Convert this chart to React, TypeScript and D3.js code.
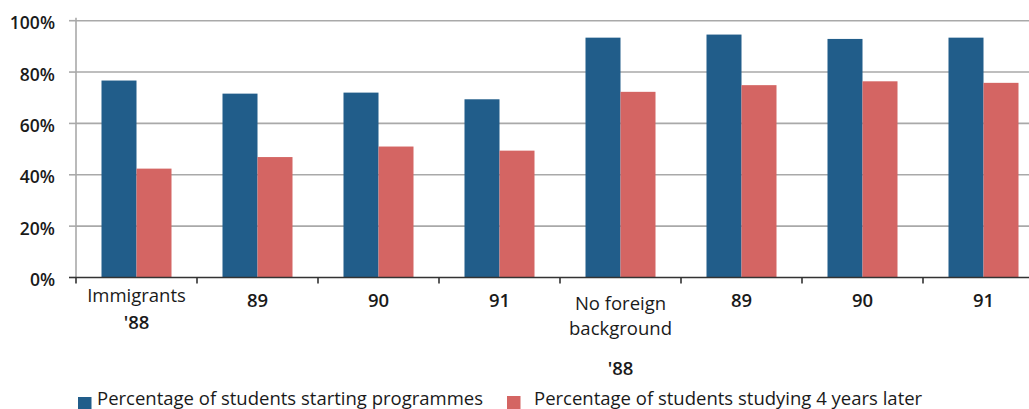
import React from "react";
import * as d3 from "d3";

// ---- data ----
const categoryLabels: string[][] = [
  ["Immigrants", "'88"],
  ["89"],
  ["90"],
  ["91"],
  ["No foreign", "background", "", "'88"],
  ["89"],
  ["90"],
  ["91"],
];
const startingValues = [76.7, 71.6, 72.0, 69.4, 93.4, 94.6, 92.9, 93.4];
const laterValues = [42.4, 46.9, 51.0, 49.4, 72.3, 74.9, 76.4, 75.8];
const seriesNames = [
  "Percentage of students starting programmes",
  "Percentage of students studying 4 years later",
];
const yTickValues = [0, 20, 40, 60, 80, 100];

// ---- layout ----
const W = 1029;
const H = 409;
const M = { left: 76, top: 20.7, bottom: 277.5, right: 1044 };
const BLUE = "#215D8A";
const RED = "#D46563";
const FONT = "'Open Sans', sans-serif";
const LABEL_SIZE = 18.5;
const barW = 35;

export default function App() {
  const idx = categoryLabels.map((_, i) => String(i));
  const x = d3.scaleBand<string>().domain(idx).range([M.left, M.right]).padding(0);
  const y = d3.scaleLinear().domain([0, 100]).range([M.bottom, M.top]);
  const sub = d3
    .scaleBand<string>()
    .domain(["start", "later"])
    .range([x.bandwidth() / 2 - barW, x.bandwidth() / 2 + barW]);

  const tickBoundaries = idx.map((d) => x(d) as number);

  const lineBaselines = (lines: string[]) =>
    lines.length === 1 ? [306.7] : lines.length === 2 ? [301.7, 329.3] : [310, 335, 355, 375];

  const isNumeric = (s: string) => /^'?\d+$/.test(s);

  return (
    <svg width={W} height={H} style={{ position: "absolute", left: 0, top: 0, display: "block" }}>
      <rect x={0} y={0} width={W} height={H} fill="#fff" />
      {/* grid lines */}
      {yTickValues.slice(1).map((v) => (
        <line key={v} x1={M.left} x2={W} y1={y(v)} y2={y(v)} stroke="#a9a9a9" strokeWidth={1.6} />
      ))}
      {/* y axis */}
      <line x1={M.left} x2={M.left} y1={M.top - 3} y2={M.bottom} stroke="#a9a9a9" strokeWidth={1.6} />
      {yTickValues.map((v) => (
        <g key={v}>
          <line x1={M.left - 7} x2={M.left} y1={y(v)} y2={y(v)} stroke={v === 0 ? "#333" : "#a9a9a9"} strokeWidth={1.6} />
          <text
            x={55}
            y={y(v) + 8.5}
            textAnchor="end"
            fontFamily={FONT}
            fontSize={17.5}
            fontWeight={600}
            fill="#1a1a1a"
          >
            {`${v}%`}
          </text>
        </g>
      ))}
      {/* bars */}
      {idx.map((d, i) => (
        <g key={d} transform={`translate(${x(d)},0)`}>
          <rect
            x={sub("start")}
            y={y(startingValues[i])}
            width={sub.bandwidth()}
            height={M.bottom - y(startingValues[i])}
            fill={BLUE}
          />
          <rect
            x={sub("later")}
            y={y(laterValues[i])}
            width={sub.bandwidth()}
            height={M.bottom - y(laterValues[i])}
            fill={RED}
          />
        </g>
      ))}
      {/* x axis */}
      <line x1={M.left} x2={W} y1={M.bottom} y2={M.bottom} stroke="#333" strokeWidth={1.6} />
      {tickBoundaries.map((t, i) => (
        <line key={i} x1={t} x2={t} y1={M.bottom} y2={M.bottom + 6} stroke="#333" strokeWidth={1.6} />
      ))}
      {/* x labels */}
      {idx.map((d, i) => {
        const cx = (x(d) as number) + x.bandwidth() / 2;
        const lines = categoryLabels[i];
        const bl = lineBaselines(lines);
        return (
          <g key={d}>
            {lines.map((ln, j) =>
              ln ? (
                <text
                  key={j}
                  x={cx}
                  y={bl[j]}
                  textAnchor="middle"
                  fontFamily={FONT}
                  fontSize={LABEL_SIZE}
                  fontWeight={isNumeric(ln) ? 600 : 400}
                  fill="#1a1a1a"
                >
                  {ln}
                </text>
              ) : null
            )}
          </g>
        );
      })}
      {/* legend */}
      <rect x={78} y={397} width={13.5} height={13.5} fill={BLUE} />
      <text x={97} y={405} fontFamily={FONT} fontSize={LABEL_SIZE} fill="#1a1a1a">
        {seriesNames[0]}
      </text>
      <rect x={507} y={396} width={13.5} height={13.5} fill={RED} />
      <text x={534} y={405} fontFamily={FONT} fontSize={LABEL_SIZE} fill="#1a1a1a">
        {seriesNames[1]}
      </text>
    </svg>
  );
}
